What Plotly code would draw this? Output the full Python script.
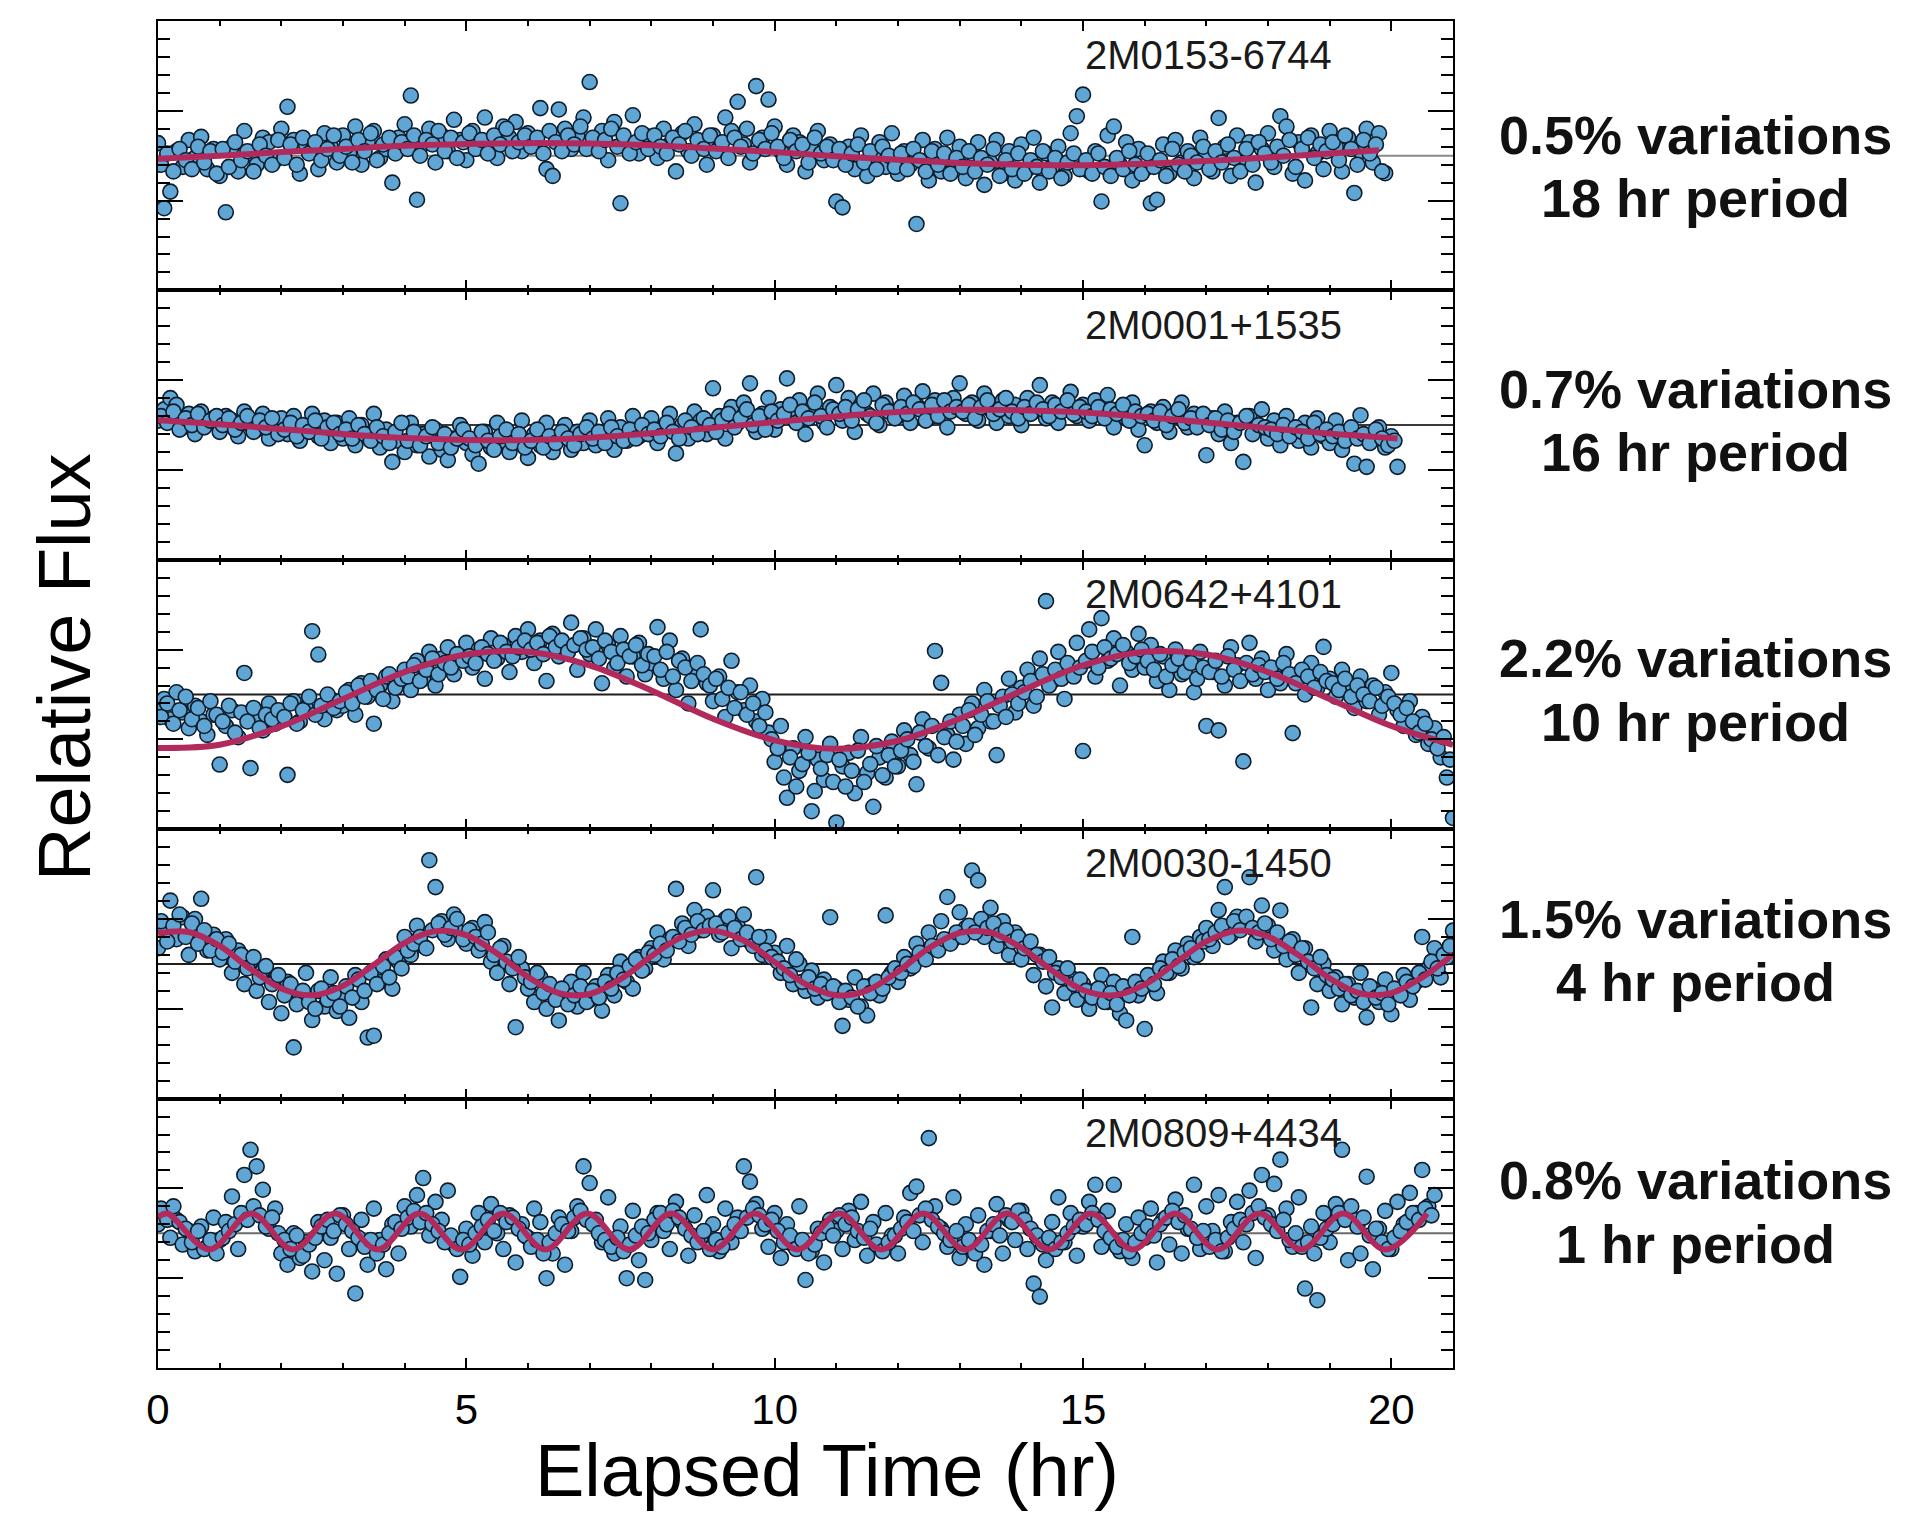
import plotly.graph_objects as go
from plotly.subplots import make_subplots

# ---------------- data ----------------
NAMES = ["2M0153-6744", "2M0001+1535", "2M0642+4101", "2M0030-1450", "2M0809+4434"]
AMPLITUDE_LABELS = ["0.5% variations", "0.7% variations", "2.2% variations",
                    "1.5% variations", "0.8% variations"]
PERIOD_LABELS = ["18 hr period", "16 hr period", "10 hr period", "4 hr period", "1 hr period"]

X_TICKS = [0, 5, 10, 15, 20]
X_TICK_LABELS = ["0", "5", "10", "15", "20"]

CADENCE_HR = 0.1      # each list holds one observation every 0.1 hr
OFFSET_A_HR = 0.0     # first interleaved set starts at t = 0
OFFSET_B_HR = 0.05    # second interleaved set starts at t = 0.05 hr

# flux deviations from 1.0, in percent
DEV_1A = [0.28, -1.17, -0.80, 0.10, -0.25, 0.35, -0.05, 0.42, -0.30, 0.15,
          -0.45, -1.26, 0.20, -0.35, 0.55, 0.05, -0.20, 0.40, 0.30, -0.10,
          0.60, 1.09, 0.35, -0.40, 0.25, 0.10, -0.30, 0.50, 0.20, -0.15,
          0.45, 0.05, 0.65, -0.20, 0.30, 0.55, -0.05, 0.15, -0.60, 0.40,
          0.70, 1.34, -0.98, 0.25, 0.60, -0.15, 0.45, 0.10, 0.80, 0.35,
          -0.10, 0.55, 0.30, 0.85, 0.20, -0.05, 0.65, 0.40, 0.75, 0.10,
          0.50, 0.25, 1.06, -0.30, -0.45, 1.03, 0.60, 0.15, 0.45, 0.85,
          1.64, 0.30, 0.55, -0.10, 0.75, -1.06, 0.20, 0.90, 0.05, 0.45,
          0.35, -0.05, 0.60, 0.25, -0.35, 0.50, 0.10, 0.70, 0.30, -0.20,
          0.45, 0.15, 0.85, 0.55, 1.20, 0.25, -0.15, 1.55, 0.40, 1.25,
          0.65, 0.10, -0.20, 0.45, 0.30, -0.35, 0.15, 0.55, -0.10, 0.25,
          -1.02, -1.15, 0.20, -0.30, 0.45, -0.45, 0.05, 0.30, -0.25, 0.50,
          -0.40, 0.10, -0.20, -1.52, 0.35, -0.55, 0.15, -0.35, 0.40, -0.10,
          0.20, -0.50, 0.05, 0.30, -0.65, -0.15, 0.35, -0.40, 0.10, -0.55,
          0.25, -0.30, 0.40, -0.60, 0.05, -0.25, 0.20, -0.45, 0.50, 0.88,
          1.36, -0.35, 0.10, -1.02, 0.45, 0.65, -0.20, 0.30, -0.55, 0.15,
          -0.30, -1.06, -0.98, 0.25, -0.40, 0.35, -0.15, 0.10, -0.50, 0.40,
          0.05, -0.35, 0.84, 0.20, -0.45, 0.45, -0.10, 0.30, -0.60, 0.15,
          0.50, -0.25, 0.88, 0.65, -0.40, 0.30, -0.55, 0.45, 0.05, -0.30,
          0.55, 0.20, -0.35, 0.40, -0.83, 0.10, 0.60, -0.15, 0.50, -0.39]
DEV_1B = [-0.20, 0.05, -0.35, 0.15, -0.10, -0.30, 0.20, -0.15, 0.10, -0.40,
          0.15, -0.25, 0.30, -0.10, 0.10, -0.35, 0.25, 0.00, -0.20, 0.35,
          -0.05, 0.25, -0.20, 0.40, 0.05, 0.30, -0.10, 0.15, 0.45, 0.00,
          0.20, -0.15, 0.35, 0.10, 0.50, -0.10, 0.25, 0.40, 0.05, 0.30,
          0.15, 0.45, 0.00, 0.35, 0.25, 0.55, 0.10, 0.40, -0.05, 0.30,
          0.50, 0.15, 0.35, 0.05, 0.45, 0.25, 0.60, 0.10, 0.30, 0.45,
          0.20, 0.40, 0.05, 0.55, 0.30, 0.10, 0.45, 0.25, 0.65, 0.15,
          0.40, 0.10, 0.35, 0.60, 0.20, 0.45, 0.05, 0.30, 0.50, 0.15,
          0.45, 0.20, 0.05, 0.40, 0.25, 0.55, 0.00, 0.35, 0.15, 0.45,
          0.10, 0.30, -0.05, 0.40, 0.20, 0.60, 0.05, 0.35, 0.15, 0.50,
          0.20, -0.05, 0.35, 0.10, 0.25, -0.15, 0.40, 0.05, 0.20, -0.10,
          0.15, -0.20, 0.05, 0.25, -0.15, 0.10, -0.30, 0.20, 0.00, -0.25,
          0.05, -0.30, 0.15, -0.10, -0.35, 0.10, -0.20, 0.05, -0.40, -0.05,
          -0.25, 0.10, -0.35, -0.05, -0.20, 0.15, -0.45, -0.10, -0.30, 0.05,
          -0.40, -0.10, -0.25, 0.10, -0.35, -0.05, -0.50, -0.15, 0.05, -0.30,
          -0.10, -0.40, 0.05, -0.25, -0.45, -0.05, -0.30, 0.10, -0.20, -0.40,
          0.05, -0.25, -0.10, -0.45, 0.15, -0.20, -0.35, 0.00, -0.15, 0.20,
          -0.30, 0.10, -0.15, 0.25, -0.05, -0.35, 0.15, -0.20, 0.30, 0.05,
          -0.15, 0.20, 0.00, 0.35, -0.25, 0.15, 0.40, -0.05, 0.25, 0.10,
          0.30, -0.10, 0.45, 0.15, -0.20, 0.35, 0.05, 0.25, -0.35]

DEV_2A = [0.10, 0.35, 0.60, 0.45, -0.05, 0.25, -0.20, 0.30, 0.05, 0.15,
          -0.15, 0.20, 0.10, -0.25, 0.30, 0.00, -0.10, 0.25, -0.30, 0.05,
          0.15, -0.20, 0.20, -0.35, -0.05, 0.25, -0.25, 0.10, -0.40, 0.05,
          -0.30, 0.15, -0.45, 0.00, -0.20, 0.25, -0.50, -0.10, -0.82, -0.35,
          -0.60, 0.05, -0.45, -0.20, -0.70, -0.10, -0.55, -0.78, -0.30, 0.00,
          -0.40, -0.65, -0.86, -0.15, -0.50, 0.05, -0.35, -0.60, -0.25, 0.10,
          -0.73, -0.20, -0.45, 0.05, -0.60, -0.30, 0.00, -0.55, -0.15, -0.40,
          0.10, -0.45, -0.20, 0.15, -0.55, -0.05, -0.35, 0.20, -0.25, -0.10,
          0.15, -0.40, -0.05, 0.25, -0.63, 0.00, -0.30, 0.30, 0.10, -0.20,
          0.82, 0.20, -0.30, 0.40, 0.05, 0.50, 0.93, -0.15, 0.25, 0.60,
          -0.10, 0.35, 1.04, 0.15, 0.55, -0.20, 0.30, 0.70, 0.05, 0.40,
          0.89, 0.10, 0.60, -0.15, 0.45, 0.25, 0.70, 0.00, 0.50, 0.30,
          0.20, 0.65, 0.05, 0.45, 0.75, 0.15, 0.55, 0.30, -0.05, 0.60,
          0.93, 0.25, 0.50, 0.10, 0.70, 0.35, 0.05, 0.55, 0.20, 0.45,
          0.00, 0.60, 0.30, 0.89, 0.15, 0.50, 0.05, 0.40, 0.74, 0.20,
          0.45, 0.10, 0.55, 0.25, 0.67, -0.05, 0.35, 0.15, 0.50, -0.10,
          -0.45, 0.30, 0.05, 0.40, -0.15, 0.20, 0.50, -0.05, 0.25, 0.10,
          -0.67, 0.15, -0.20, 0.30, -0.40, 0.05, -0.82, 0.20, -0.10, 0.35,
          -0.30, 0.10, -0.45, 0.20, -0.15, -0.35, 0.05, -0.50, 0.15, -0.25,
          -0.40, 0.10, -0.55, -0.20, -0.86, 0.22, -0.93, -0.30, -0.05, -0.50,
          -0.25, -0.93]
DEV_2B = [0.20, 0.05, 0.30, -0.10, 0.15, 0.00, 0.25, -0.05, 0.10, 0.20,
          0.00, 0.15, -0.10, 0.05, 0.20, -0.15, 0.10, -0.05, 0.15, -0.20,
          -0.10, 0.05, -0.25, 0.00, -0.15, 0.10, -0.30, -0.05, 0.05, -0.20,
          -0.10, -0.30, 0.00, -0.20, -0.35, -0.05, -0.25, -0.40, -0.15, 0.05,
          -0.35, -0.15, -0.45, -0.25, -0.05, -0.40, -0.20, -0.50, -0.30, -0.10,
          -0.30, -0.45, -0.15, -0.35, -0.55, -0.25, -0.10, -0.40, -0.20, -0.50,
          -0.35, -0.10, -0.50, -0.25, -0.40, -0.15, -0.30, -0.45, -0.20, -0.05,
          -0.30, -0.15, -0.40, -0.05, -0.25, -0.35, -0.10, -0.30, 0.00, -0.20,
          -0.10, -0.25, 0.05, -0.15, -0.30, 0.10, -0.05, -0.20, 0.15, 0.00,
          -0.15, 0.10, 0.25, -0.05, 0.15, 0.35, 0.00, 0.20, -0.10, 0.30,
          0.10, 0.25, 0.45, 0.05, 0.30, 0.15, 0.50, 0.20, -0.05, 0.35,
          0.25, 0.40, 0.10, 0.35, 0.55, 0.20, 0.05, 0.45, 0.30, 0.15,
          0.40, 0.25, 0.50, 0.35, 0.10, 0.45, 0.20, 0.55, 0.30, 0.40,
          0.30, 0.45, 0.15, 0.40, 0.55, 0.25, 0.35, 0.60, 0.30, 0.15,
          0.40, 0.25, 0.50, 0.35, 0.20, 0.45, 0.30, 0.55, 0.25, 0.40,
          0.30, 0.20, 0.40, 0.15, 0.35, 0.25, 0.45, 0.10, 0.30, 0.20,
          0.25, 0.10, 0.30, 0.00, 0.20, 0.35, 0.05, 0.15, -0.05, 0.25,
          0.00, 0.15, -0.10, 0.10, -0.15, 0.05, 0.20, -0.20, 0.00, -0.05,
          -0.10, -0.20, 0.00, -0.25, -0.05, -0.15, -0.30, 0.05, -0.20, -0.10,
          -0.25, -0.15, -0.35, -0.05, -0.30, -0.20, -0.40, -0.10, -0.30, -0.45,
          -0.35]

DEV_3A = [-0.30, -0.10, -0.55, 0.05, -0.40, -0.75, -0.25, -0.60, -0.90, -0.45,
          -1.56, -0.70, -0.35, -0.95, 0.48, -1.64, -0.50, -0.80, -0.20, -0.65,
          -0.45, -1.79, -0.15, -0.60, -0.30, 1.41, 0.89, -0.55, -0.10, -0.35,
          -0.25, 0.10, -0.45, 0.25, -0.05, -0.65, 0.20, 0.40, -0.15, 0.30,
          0.55, 0.10, 0.75, 0.35, 0.95, 0.20, 0.80, 1.05, 0.45, 0.90,
          1.15, 0.60, 1.00, 0.35, 1.25, 0.80, 1.10, 0.50, 1.30, 0.95,
          1.45, 0.70, 1.20, 0.30, 1.35, 0.85, 1.05, 1.60, 0.55, 1.25,
          0.90, 1.45, 0.25, 1.10, 0.60, 1.30, 0.40, 0.85, 1.15, 0.45,
          0.70, 1.50, 0.35, 1.20, 0.10, 0.80, -0.20, 0.55, 1.45, 0.25,
          -0.15, 0.40, -0.50, 0.75, 0.05, -0.35, 0.20, -0.60, -0.10, -0.85,
          -1.50, -0.70, -2.30, -1.20, -1.70, -0.95, -2.60, -1.45, -1.90, -1.10,
          -2.85, -1.60, -1.30, -2.20, -0.95, -1.75, -2.50, -1.40, -1.85, -1.05,
          -1.60, -0.80, -1.35, -2.00, -0.55, -1.20, 0.97, 0.26, -0.90, -1.45,
          -0.45, -1.10, -0.20, -0.75, 0.10, -0.60, -1.35, -0.05, 0.35, -0.40,
          0.15, 0.55, -0.25, 0.80, 2.08, 0.30, 0.95, -0.10, 0.60, 1.15,
          -1.26, 1.45, 0.40, 1.70, 0.75, 1.25, 0.20, 0.95, 0.55, 1.35,
          0.60, 1.10, 0.30, 0.85, 0.10, 1.00, 0.45, 0.70, 0.05, 0.95,
          -0.70, 0.50, -0.80, 0.20, 1.05, 0.65, -1.49, 1.15, 0.35, 0.80,
          0.10, 0.55, 0.25, 0.90, -0.86, 0.40, 0.00, 0.70, 0.15, 1.06,
          0.35, -0.05, 0.55, 0.10, -0.30, 0.40, -0.15, 0.20, -0.45, 0.05,
          0.48, -0.35, -0.70, -0.15, -0.90, -0.50, -1.10, -0.75, -1.40, -1.85,
          -2.75]
DEV_3B = [-0.50, -0.20, -0.65, -0.35, -0.05, -0.55, -0.30, -0.70, -0.15, -0.45,
          -0.60, -0.25, -0.85, -0.40, -0.60, -0.30, -0.75, -0.45, -0.55, -0.35,
          -0.50, -0.20, -0.65, -0.35, -0.05, -0.45, -0.25, 0.00, -0.30, -0.15,
          0.05, -0.20, 0.20, -0.05, 0.30, 0.10, -0.10, 0.45, 0.15, 0.35,
          0.40, 0.65, 0.30, 0.55, 0.80, 0.45, 0.70, 0.60, 0.90, 0.75,
          0.85, 0.70, 1.05, 0.90, 0.75, 1.15, 0.95, 0.85, 1.05, 1.20,
          1.00, 1.15, 0.90, 1.30, 1.05, 1.20, 0.95, 1.10, 1.25, 1.00,
          1.05, 0.80, 1.20, 0.95, 0.70, 1.00, 0.85, 1.10, 0.65, 0.90,
          0.85, 0.55, 0.95, 0.40, 0.75, 0.60, 0.30, 0.70, 0.45, 0.20,
          0.35, -0.10, 0.15, -0.30, 0.05, -0.45, -0.20, -0.70, -0.40, -1.00,
          -1.20, -1.85, -1.40, -2.05, -1.55, -1.30, -2.15, -1.65, -1.35, -1.95,
          -1.45, -2.05, -1.70, -1.25, -1.95, -1.55, -1.15, -1.80, -1.35, -1.60,
          -1.25, -1.00, -1.50, -0.85, -1.15, -0.70, -1.35, -0.95, -0.60, -1.05,
          -0.70, -0.35, -0.90, -0.45, -0.15, -0.60, -0.25, -0.50, 0.00, -0.20,
          0.05, 0.30, -0.05, 0.45, 0.20, 0.55, 0.35, 0.70, 0.40, 0.60,
          0.75, 0.95, 0.60, 1.05, 0.80, 0.90, 1.10, 0.70, 0.85, 1.00,
          0.75, 0.55, 0.90, 0.40, 0.65, 0.80, 0.50, 0.70, 0.35, 0.60,
          0.50, 0.75, 0.40, 0.85, 0.55, 0.30, 0.70, 0.45, 0.65, 0.50,
          0.60, 0.35, 0.70, 0.45, 0.25, 0.55, 0.40, 0.15, 0.50, 0.30,
          0.25, 0.10, 0.35, -0.05, 0.20, 0.00, -0.15, 0.15, -0.25, -0.05,
          -0.20, -0.45, -0.30, -0.60, -0.85, -0.65, -1.00, -1.20, -0.95, -1.45]

DEV_4A = [0.35, 0.80, 1.41, 0.55, 1.04, 0.20, 1.00, 1.45, 0.30, 0.65,
          0.10, 0.55, -0.20, 0.30, -0.45, 0.05, -0.60, -0.15, -0.85, -0.35,
          -1.10, -0.40, -1.86, -0.75, -0.20, -1.25, -0.60, -0.95, -0.30, -1.05,
          -0.70, -1.20, -0.25, -0.85, -1.64, -1.60, -0.40, 0.10, -0.55, 0.05,
          0.60, 0.20, 0.85, 0.40, 2.31, 1.71, 0.95, 0.55, 1.10, 0.70,
          0.45, 0.80, 0.30, 0.93, 0.05, -0.20, 0.40, -0.45, -1.41, -0.10,
          -0.55, -0.85, -0.30, -1.00, -0.60, -1.26, -0.75, -0.40, -0.95, -0.20,
          -0.80, -0.50, -1.04, -0.25, -0.70, 0.05, -0.40, -0.55, 0.15, -0.10,
          0.35, 0.70, 0.10, 0.55, 1.67, 0.90, 0.40, 1.20, 0.75, 1.05,
          1.64, 0.65, 1.00, 0.35, 0.85, 1.10, 0.50, 1.93, 0.20, 0.60,
          0.25, -0.20, 0.40, -0.45, 0.00, -0.60, -0.15, -0.75, -0.35, 1.04,
          -0.55, -1.38, -0.80, -0.30, -0.95, -1.15, -0.45, -0.70, 1.08, -0.20,
          -0.40, 0.15, -0.10, 0.45, 0.20, 0.70, 0.35, 0.95, 1.49, 0.55,
          1.15, 0.80, 2.08, 1.86, 0.60, 1.25, 0.40, 0.95, 0.20, 0.70,
          0.10, 0.45, -0.25, 0.20, -0.50, -0.97, -0.10, -0.65, -0.30, -0.80,
          -0.45, -1.00, -0.60, -0.25, -0.85, -0.40, -1.10, -1.26, 0.60, -0.70,
          -1.45, -0.30, -0.65, 0.05, -0.20, 0.30, -0.10, 0.45, 0.15, 0.60,
          0.80, 0.40, 1.20, 1.71, 0.65, 1.05, 0.90, 1.93, 0.50, 1.30,
          0.85, 0.30, 1.19, 0.10, 0.55, -0.20, 0.35, -0.97, -0.45, 0.00,
          -0.60, -0.30, -0.90, -0.45, -0.75, -0.20, -1.19, -0.55, -0.85, -0.35,
          -1.12, -0.60, -0.25, -0.80, -0.40, 0.60, -0.10, 0.35, -0.30, 0.15,
          0.74]
DEV_4B = [0.95, 0.50, 0.85, 1.10, 0.60, 0.90, 0.45, 0.75, 0.30, 0.55,
          0.25, 0.45, 0.05, 0.20, -0.10, 0.15, -0.30, -0.05, -0.45, -0.25,
          -0.70, -0.45, -0.90, -0.60, -0.85, -1.00, -0.55, -0.80, -0.65, -0.95,
          -0.50, -0.75, -0.35, -0.60, -0.20, -0.45, -0.05, -0.30, 0.15, -0.10,
          0.30, 0.45, 0.60, 0.35, 0.75, 0.90, 0.65, 0.80, 1.00, 0.55,
          0.75, 0.60, 0.45, 0.70, 0.20, 0.35, 0.05, -0.10, 0.15, -0.30,
          -0.40, -0.20, -0.65, -0.45, -0.80, -0.55, -0.90, -0.70, -0.50, -0.85,
          -0.60, -0.75, -0.40, -0.55, -0.20, -0.35, -0.05, 0.10, -0.15, 0.25,
          0.20, 0.45, 0.30, 0.60, 0.50, 0.80, 0.65, 0.95, 0.75, 0.85,
          0.90, 0.70, 1.05, 0.80, 0.55, 0.70, 0.40, 0.60, 0.30, 0.15,
          0.05, -0.10, -0.25, 0.10, -0.40, -0.30, -0.55, -0.45, -0.65, -0.50,
          -0.85, -0.60, -0.75, -0.95, -0.50, -0.65, -0.40, -0.55, -0.30, -0.10,
          -0.20, 0.00, -0.05, 0.25, 0.10, 0.40, 0.30, 0.55, 0.45, 0.70,
          0.60, 0.85, 0.70, 1.00, 0.80, 0.90, 0.65, 0.75, 0.50, 0.60,
          0.35, 0.50, 0.20, 0.05, 0.15, -0.20, -0.30, -0.10, -0.45, -0.35,
          -0.60, -0.75, -0.55, -0.85, -0.65, -0.90, -0.50, -0.70, -0.40, -0.55,
          -0.25, -0.45, -0.10, -0.20, 0.10, -0.05, 0.25, 0.35, 0.20, 0.50,
          0.55, 0.70, 0.85, 0.60, 0.95, 0.75, 1.05, 0.80, 0.70, 0.90,
          0.55, 0.70, 0.40, 0.50, 0.20, 0.35, 0.05, -0.10, 0.15, -0.25,
          -0.35, -0.55, -0.45, -0.70, -0.60, -0.85, -0.50, -0.75, -0.65, -0.90,
          -0.55, -0.70, -0.40, -0.50, -0.20, -0.35, 0.05, -0.10, 0.20, 0.40]

DEV_5A = [0.20, 0.45, -0.10, 0.30, -0.25, 0.05, -0.40, 0.15, -0.30, 0.35,
          -0.15, 0.25, 0.82, -0.35, 1.30, 1.86, 1.49, 0.97, 0.10, 0.55,
          -0.45, -0.70, 0.00, -0.55, -0.20, -0.85, 0.25, -0.60, -0.10, -0.90,
          0.40, -0.35, -1.34, 0.30, -0.70, 0.55, -0.15, -0.80, 0.20, -0.45,
          0.60, 0.15, 0.85, 1.23, -0.05, 0.70, 0.30, 0.95, -0.25, -0.97,
          0.10, -0.50, 0.45, -0.20, 0.65, 0.00, -0.35, 0.40, -0.65, 0.20,
          -0.10, 0.55, 0.25, -1.00, -0.45, 0.35, -0.70, 0.05, 0.60, 1.49,
          1.12, 0.30, -0.20, 0.80, -0.45, 0.15, -1.00, 0.50, -0.60, -1.04,
          -0.15, 0.45, 0.05, -0.35, 0.70, 0.25, -0.50, 0.40, -0.10, 0.85,
          0.20, -0.40, 0.55, -0.20, 0.35, 1.49, 1.15, 0.65, 0.10, -0.30,
          0.45, -0.55, 0.20, -0.25, 0.60, -1.04, -0.40, 0.10, -0.65, 0.30,
          0.05, -0.35, 0.50, -0.15, 0.70, -0.50, 0.25, -0.30, 0.45, -0.05,
          -0.45, 0.35, 0.90, 1.04, -0.20, 2.12, 0.60, 0.10, -0.30, 0.80,
          -0.55, 0.20, -0.25, 0.40, -0.70, 0.05, 0.65, -0.45, 0.30, -0.15,
          0.50, -0.35, -1.12, -1.41, -0.60, 0.25, 0.80, -0.20, 0.45, -0.50,
          0.15, 0.70, 1.08, -0.30, 0.50, 1.08, -0.40, 0.20, -0.55, 0.35,
          -0.10, 0.55, -0.65, 0.30, -0.25, 0.75, -0.45, 0.10, 1.08, -0.35,
          0.60, 0.05, 0.85, -0.40, 0.25, 0.70, -0.20, 0.95, -0.55, 1.30,
          0.40, 1.10, 1.64, 0.55, -0.30, 0.80, -1.23, 0.15, -1.49, 0.45,
          -0.20, 0.65, 1.86, -0.60, 0.30, -0.45, 1.26, -0.80, 0.10, 0.50,
          -0.35, 0.70, 0.20, 0.90, 0.45, 1.41, 0.60, 0.85]
DEV_5B = [0.55, 0.30, 0.60, 0.25, 0.10, -0.20, 0.05, -0.35, -0.15, -0.45,
          -0.10, 0.05, 0.20, 0.45, 0.30, 0.60, 0.40, 0.15, 0.35, 0.00,
          -0.15, -0.35, -0.05, -0.50, -0.25, -0.10, 0.15, 0.30, 0.05, 0.40,
          0.20, 0.05, -0.10, -0.30, -0.15, -0.45, -0.25, 0.00, 0.25, 0.10,
          0.35, 0.50, 0.25, 0.45, 0.20, 0.05, -0.20, -0.05, -0.35, -0.15,
          -0.25, 0.00, 0.15, 0.30, 0.05, 0.45, 0.25, 0.35, 0.10, -0.05,
          -0.30, -0.15, -0.45, -0.20, 0.00, 0.20, 0.05, 0.35, 0.50, 0.30,
          0.20, 0.00, -0.15, -0.30, -0.10, -0.40, -0.25, -0.05, 0.15, 0.00,
          0.30, 0.45, 0.20, 0.50, 0.35, 0.10, -0.05, -0.20, 0.05, -0.35,
          -0.15, -0.30, 0.00, 0.20, 0.05, 0.35, 0.55, 0.40, 0.20, 0.30,
          0.05, -0.20, -0.05, -0.35, -0.15, -0.45, -0.25, 0.00, 0.15, -0.05,
          0.40, 0.20, 0.35, 0.05, -0.10, 0.10, -0.25, -0.40, -0.20, -0.05,
          0.10, 0.25, 0.05, 0.40, 0.55, 0.30, 0.15, 0.00, -0.15, 0.05,
          -0.30, -0.15, -0.45, -0.25, 0.05, 0.20, -0.05, 0.40, 0.25, 0.50,
          0.30, 0.10, -0.05, -0.25, -0.10, -0.35, -0.20, 0.00, 0.15, 0.30,
          0.20, 0.45, 0.30, 0.05, -0.10, -0.30, -0.15, -0.40, -0.20, 0.00,
          0.15, -0.05, 0.20, 0.35, 0.50, 0.25, 0.40, 0.10, -0.10, 0.05,
          -0.30, -0.15, -0.40, -0.10, 0.10, 0.30, 0.20, 0.45, 0.60, 0.35,
          0.20, 0.05, 0.30, -0.15, 0.00, -0.30, -0.20, -0.45, -0.10, 0.10,
          0.20, 0.45, 0.30, 0.60, 0.15, 0.35, -0.05, 0.10, -0.20, -0.35,
          -0.10, 0.05, 0.25, 0.45, 0.30, 0.55, 0.40]

# sinusoidal fit curves: node times (hr) and deviations (%)
FIT_T_1 = [0, 1, 2, 3, 4, 5, 6, 7, 8, 9, 10, 11, 12, 13, 14, 15, 16, 17, 18, 19, 19.8]
FIT_V_1 = [-0.07, 0.00, 0.08, 0.15, 0.22, 0.26, 0.28, 0.27, 0.23, 0.16, 0.08,
           -0.01, -0.09, -0.16, -0.20, -0.21, -0.18, -0.12, -0.04, 0.05, 0.12]
FIT_T_2 = [0, 1, 2, 3, 4, 5, 6, 7, 8, 9, 10, 11, 12, 13, 14, 15, 16, 17, 18, 19, 20, 20.1]
FIT_V_2 = [0.11, 0.02, -0.09, -0.20, -0.29, -0.33, -0.33, -0.28, -0.18, -0.06, 0.07,
           0.19, 0.29, 0.34, 0.33, 0.28, 0.18, 0.06, -0.07, -0.19, -0.29, -0.30]
FIT_T_3 = [0, 1, 2, 3, 4, 5, 6, 7, 8, 9, 10, 11, 12, 13, 14, 15, 16, 17, 18, 19, 20, 21]
FIT_V_3 = [-1.19, -1.12, -0.71, -0.10, 0.50, 0.89, 0.95, 0.65, 0.09, -0.54, -1.02,
           -1.21, -1.03, -0.54, 0.08, 0.65, 0.95, 0.89, 0.50, -0.10, -0.70, -1.12]
FIT_T_4 = [0, 0.5, 1, 1.5, 2, 2.5, 3, 3.5, 4, 4.5, 5, 5.5, 6, 6.5, 7, 7.5, 8, 8.5, 9, 9.5,
           10, 10.5, 11, 11.5, 12, 12.5, 13, 13.5, 14, 14.5, 15, 15.5, 16, 16.5, 17, 17.5,
           18, 18.5, 19, 19.5, 20, 20.5, 21]
FIT_V_4 = [0.68, 0.71, 0.40, -0.11, -0.55, -0.70, -0.49, -0.02, 0.47, 0.73, 0.64, 0.23,
           -0.29, -0.65, -0.67, -0.34, 0.17, 0.60, 0.74, 0.52, 0.04, -0.45, -0.70, -0.59,
           -0.17, 0.35, 0.69, 0.70, 0.36, -0.15, -0.58, -0.70, -0.46, 0.02, 0.50, 0.74,
           0.61, 0.19, -0.32, -0.66, -0.65, -0.30, 0.21]
FIT_T_5 = [0, 0.15, 0.83, 1.51, 2.19, 2.87, 3.56, 4.24, 4.92, 5.60, 6.28, 6.96, 7.64, 8.32,
           9.00, 9.68, 10.37, 11.05, 11.73, 12.41, 13.09, 13.77, 14.45, 15.13, 15.81, 16.49,
           17.18, 17.86, 18.54, 19.22, 19.90, 20.58]
FIT_V_5 = [0.36, 0.44, -0.36, 0.44, -0.36, 0.44, -0.36, 0.44, -0.36, 0.44, -0.36, 0.44,
           -0.36, 0.44, -0.36, 0.44, -0.36, 0.44, -0.36, 0.44, -0.36, 0.44, -0.36, 0.44,
           -0.36, 0.44, -0.36, 0.44, -0.36, 0.44, -0.36, 0.44]

DEVS = [(DEV_1A, DEV_1B), (DEV_2A, DEV_2B), (DEV_3A, DEV_3B), (DEV_4A, DEV_4B),
        (DEV_5A, DEV_5B)]
FITS = [(FIT_T_1, FIT_V_1), (FIT_T_2, FIT_V_2), (FIT_T_3, FIT_V_3),
        (FIT_T_4, FIT_V_4), (FIT_T_5, FIT_V_5)]

# ---------------- styling / layout ----------------
BODY_MARGIN = 8                         # default page margin around the plot div
W, H = 1906 - 2 * BODY_MARGIN, 1523 - 2 * BODY_MARGIN
PL, PR, PT, PB = 158, 1453, 21, 1368    # plot area, in screen pixels
FONT = "Liberation Sans, Arial, Helvetica, sans-serif"
MARKER_FILL = "#5fa6d4"
MARKER_EDGE = "#0e1c2b"
FIT_COLOR = "#b22a5b"
REF_LINE_COLORS = ["#8a8a8a", "#3a3a3a", "#1e1e1e", "#1e1e1e", "#6a6a6a"]


def px_to_paper_x(px):
    return (px - PL) / (PR - PL)


def px_to_paper_y(py):
    return (PB - py) / (PB - PT)


def to_flux(devs):
    return [1.0 + d / 100.0 for d in devs]


def times_for(values, offset):
    return [round(offset + k * CADENCE_HR, 2) for k in range(len(values))]


fig = make_subplots(rows=5, cols=1, shared_xaxes=True, vertical_spacing=0)

for i, ((dev_a, dev_b), (ft, fv)) in enumerate(zip(DEVS, FITS)):
    row = i + 1
    times = times_for(dev_a, OFFSET_A_HR) + times_for(dev_b, OFFSET_B_HR)
    fig.add_trace(go.Scatter(
        x=times, y=to_flux(dev_a + dev_b), mode="markers",
        marker=dict(size=15, color=MARKER_FILL, line=dict(width=1.6, color=MARKER_EDGE)),
        showlegend=False, hoverinfo="skip"), row=row, col=1)
    fig.add_trace(go.Scatter(
        x=ft, y=to_flux(fv), mode="lines",
        line=dict(color=FIT_COLOR, width=6, shape="spline"),
        showlegend=False, hoverinfo="skip"), row=row, col=1)

for i in range(5):
    row = i + 1
    fig.update_xaxes(
        range=[0, 21], showline=True, linecolor="black", linewidth=2, mirror="ticks",
        ticks="inside", ticklen=10, tickwidth=2, tickcolor="black",
        tickmode="array", tickvals=X_TICKS, ticktext=X_TICK_LABELS,
        minor=dict(ticks="inside", ticklen=5, tickwidth=1.5, tickcolor="black",
                   tickmode="linear", tick0=0, dtick=1),
        showgrid=False, zeroline=False,
        showticklabels=(row == 5),
        tickfont=dict(family=FONT, size=42, color="black"),
        ticklabelstandoff=4,
        row=row, col=1)
    fig.update_yaxes(
        range=[0.97, 1.03], showline=True, linecolor="black", linewidth=2, mirror="ticks",
        ticks="inside", ticklen=25, tickwidth=2, tickcolor="black",
        tickmode="array", tickvals=[0.99, 1.01],
        minor=dict(ticks="inside", ticklen=12, tickwidth=1.5, tickcolor="black",
                   tickmode="linear", tick0=0.99, dtick=0.004),
        showgrid=False, zeroline=False, showticklabels=False,
        row=row, col=1)
    axn = "" if row == 1 else str(row)
    fig.add_shape(type="line", xref=f"x{axn} domain", yref=f"y{axn}",
                  x0=0, x1=1, y0=1.0, y1=1.0, layer="below",
                  line=dict(color=REF_LINE_COLORS[i], width=2))
    fig.add_annotation(x=15, y=1.0224, xref=f"x{axn}", yref=f"y{axn}",
                       text=NAMES[i], showarrow=False, xanchor="left", yanchor="middle",
                       font=dict(family=FONT, size=40, color="#1a1a1a"))

NOTE_X_PX = 1695
NOTE_LINE1_PX = [135, 389, 658, 919, 1180]
NOTE_LINE2_PX = [198, 452, 722, 982, 1244]
for i in range(5):
    fig.add_annotation(x=px_to_paper_x(NOTE_X_PX), y=px_to_paper_y(NOTE_LINE1_PX[i]),
                       xref="paper", yref="paper", showarrow=False,
                       xanchor="center", yanchor="middle",
                       text=f"<b>{AMPLITUDE_LABELS[i]}</b>",
                       font=dict(family=FONT, size=54, color="#111111"))
    fig.add_annotation(x=px_to_paper_x(NOTE_X_PX), y=px_to_paper_y(NOTE_LINE2_PX[i]),
                       xref="paper", yref="paper", showarrow=False,
                       xanchor="center", yanchor="middle",
                       text=f"<b>{PERIOD_LABELS[i]}</b>",
                       font=dict(family=FONT, size=54, color="#111111"))

fig.add_annotation(x=px_to_paper_x(65), y=px_to_paper_y(667), xref="paper", yref="paper",
                   text="Relative Flux", textangle=-90, showarrow=False,
                   xanchor="center", yanchor="middle",
                   font=dict(family=FONT, size=74, color="black"))
fig.add_annotation(x=px_to_paper_x(827), y=px_to_paper_y(1470), xref="paper", yref="paper",
                   text="Elapsed Time (hr)", showarrow=False,
                   xanchor="center", yanchor="middle",
                   font=dict(family=FONT, size=74, color="black"))

fig.update_layout(
    width=W, height=H,
    margin=dict(l=PL - BODY_MARGIN, r=W - (PR - BODY_MARGIN),
                t=PT - BODY_MARGIN, b=H - (PB - BODY_MARGIN), pad=0),
    paper_bgcolor="white", plot_bgcolor="white",
    showlegend=False,
    font=dict(family=FONT, color="black"),
)

fig.write_html("out.html")
